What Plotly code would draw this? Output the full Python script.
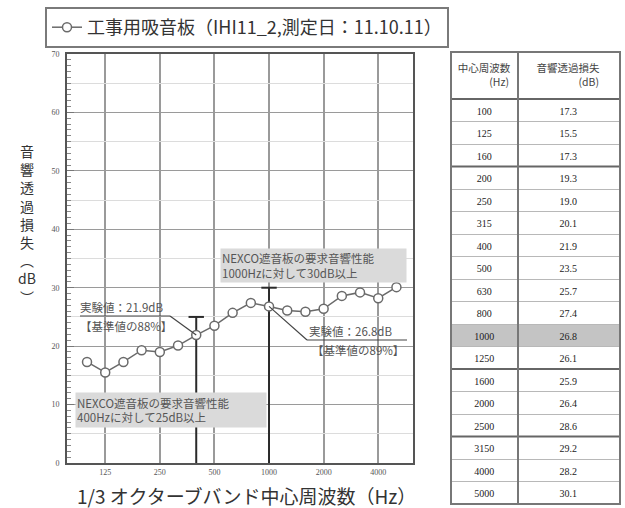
import plotly.graph_objects as go

# ---------------- data ----------------
freqs = [100, 125, 160, 200, 250, 315, 400, 500, 630, 800, 1000, 1250,
         1600, 2000, 2500, 3150, 4000, 5000]
tl_values = [17.3, 15.5, 17.3, 19.3, 19.0, 20.1, 21.9, 23.5, 25.7, 27.4, 26.8,
             26.1, 25.9, 26.4, 28.6, 29.2, 28.2, 30.1]
x_tick_labels = ["125", "250", "500", "1000", "2000", "4000"]
y_tick_values = [0, 10, 20, 30, 40, 50, 60, 70]
req_freqs = [400, 1000]
req_values = [25, 30]
series_name = "工事用吸音板（IHI11_2,測定日：11.10.11）"
table_header = ["中心周波数<br>　　　(Hz)", "音響透過損失<br>　　　　(dB)"]
highlight_freq = 1000
table_group_breaks = [3, 12, 15]

W, H = 625, 508
CJK = "Noto Sans CJK JP"
SERIF = "Liberation Serif"

idx = list(range(len(freqs)))
xt_vals = [freqs.index(int(s)) for s in x_tick_labels]

# plot area in pixels
PL, PR, PT, PB = 67, 413, 54, 463
XMIN, XMAX = -1.1, 17.91
YMIN, YMAX = 0, 70

def px_x(p):
    return XMIN + (p - PL) / (PR - PL) * (XMAX - XMIN)

def px_y(p):
    return YMAX - (p - PT) / (PB - PT) * (YMAX - YMIN)

fig = go.Figure()

# requirement I-beams
rx, ry = [], []
for f, v in zip(req_freqs, req_values):
    i = freqs.index(f)
    rx += [i, i, None]
    ry += [0, v, None]
fig.add_trace(go.Scatter(x=rx, y=ry, mode="lines",
                         line=dict(color="#2a2a2a", width=2),
                         showlegend=False, hoverinfo="skip"))
fig.add_trace(go.Scatter(x=[freqs.index(f) for f in req_freqs], y=req_values,
                         mode="markers",
                         marker=dict(symbol="line-ew", size=11,
                                     line=dict(color="#2a2a2a", width=2)),
                         showlegend=False, hoverinfo="skip"))

# main series
fig.add_trace(go.Scatter(x=idx, y=tl_values, mode="lines+markers",
                         name=series_name,
                         line=dict(color="#6a6a6a", width=1.5),
                         marker=dict(symbol="circle", size=9, color="white",
                                     line=dict(color="#6a6a6a", width=1.5))))

# invisible trace for the secondary (5 dB) grid axis
fig.add_trace(go.Scatter(x=[0], y=[0], yaxis="y2", mode="markers",
                         marker=dict(opacity=0), showlegend=False,
                         hoverinfo="skip"))

# table
hi = freqs.index(highlight_freq)
fill = ["#c4c4c4" if i == hi else "white" for i in idx]
HEADER_H = 47
CELL_H = 22.5
TL, TR, TT = 451, 620, 52
COL1 = 67
TB = TT + HEADER_H + CELL_H * len(freqs)
fig.add_trace(go.Table(
    domain=dict(x=[TL / W, TR / W], y=[1 - TB / H, 1 - TT / H]),
    columnwidth=[COL1, TR - TL - COL1],
    header=dict(values=table_header, align="center", height=HEADER_H,
                fill_color="white", line=dict(color="#8a8a8a", width=1),
                font=dict(family=CJK, size=10.5, color="#444")),
    cells=dict(values=[[str(f) for f in freqs], [f"{v:.1f}" for v in tl_values]],
               align="center", height=CELL_H,
               fill_color=[fill, fill],
               line=dict(color="#b8b8b8", width=1),
               font=dict(family=SERIF, size=10, color="#222")),
))

shapes = []
# table thick separators + border
def tab_y(k):
    return 1 - (TT + HEADER_H + CELL_H * k) / H
for k in [0] + table_group_breaks:
    shapes.append(dict(type="line", xref="paper", yref="paper",
                       x0=TL / W, x1=TR / W, y0=tab_y(k), y1=tab_y(k),
                       line=dict(color="#666", width=2)))
shapes.append(dict(type="rect", xref="paper", yref="paper",
                   x0=TL / W, x1=TR / W, y0=1 - TB / H, y1=1 - TT / H,
                   line=dict(color="#777", width=2)))
shapes.append(dict(type="line", xref="paper", yref="paper",
                   x0=(TL + COL1) / W, x1=(TL + COL1) / W, y0=1 - TB / H, y1=1 - TT / H,
                   line=dict(color="#777", width=2)))

# leader lines
i1 = freqs.index(400)
v1 = tl_values[i1]
u1y = px_y(316)
shapes.append(dict(type="line", xref="x", yref="y", x0=px_x(80), x1=px_x(170),
                   y0=u1y, y1=u1y, line=dict(color="#444", width=1.2)))
shapes.append(dict(type="line", xref="x", yref="y", x0=px_x(170), x1=i1,
                   y0=u1y, y1=v1, line=dict(color="#444", width=1.2)))
i2 = freqs.index(1000)
v2 = tl_values[i2]
u2y = px_y(340)
shapes.append(dict(type="line", xref="x", yref="y", x0=i2, x1=px_x(307),
                   y0=v2, y1=u2y, line=dict(color="#444", width=1.2)))
shapes.append(dict(type="line", xref="x", yref="y", x0=px_x(307), x1=px_x(407),
                   y0=u2y, y1=u2y, line=dict(color="#444", width=1.2)))

ann_font = dict(family=CJK, size=11.5, color="#555")
annotations = [
    dict(xref="x", yref="y", x=px_x(79), y=u1y, xanchor="left", yanchor="bottom",
         text=f"実験値：{v1}dB", showarrow=False, font=ann_font, borderpad=0),
    dict(xref="x", yref="y", x=px_x(79), y=px_y(317), xanchor="left", yanchor="top",
         text=f"【基準値の{round(v1 / req_values[0] * 100)}%】", showarrow=False,
         font=ann_font, borderpad=0),
    dict(xref="x", yref="y", x=px_x(308), y=u2y, xanchor="left", yanchor="bottom",
         text=f"実験値：{v2}dB", showarrow=False, font=ann_font, borderpad=0),
    dict(xref="x", yref="y", x=px_x(311), y=px_y(341), xanchor="left", yanchor="top",
         text=f"【基準値の{round(v2 / req_values[1] * 100)}%】", showarrow=False,
         font=ann_font, borderpad=0),
    dict(xref="x", yref="y", x=px_x(220), y=px_y(248), xanchor="left", yanchor="top",
         text=f"NEXCO遮音板の要求音響性能<br>{req_freqs[1]}Hzに対して{req_values[1]}dB以上",
         showarrow=False, align="left", width=183, height=31, borderpad=1,
         bgcolor="#dadada", font=ann_font),
    dict(xref="x", yref="y", x=px_x(75), y=px_y(392), xanchor="left", yanchor="top",
         text=f"NEXCO遮音板の要求音響性能<br>{req_freqs[0]}Hzに対して{req_values[0]}dB以上",
         showarrow=False, align="left", width=188, height=32, borderpad=1,
         bgcolor="#dadada", font=ann_font),
    # axis titles
    dict(xref="paper", yref="paper", x=27 / W, y=1 - 224 / H,
         xanchor="center", yanchor="middle", showarrow=False,
         text="<br>".join(["音", "響", "透", "過", "損", "失", "︵", "dB", "︶"]),
         font=dict(family=CJK, size=14, color="#333")),
    dict(xref="paper", yref="paper", x=246 / W, y=1 - 495 / H,
         xanchor="center", yanchor="middle", showarrow=False,
         text="1/3 オクターブバンド中心周波数（Hz）",
         font=dict(family=CJK, size=19, color="#333")),
]

fig.update_layout(
    width=W, height=H,
    margin=dict(l=0, r=0, t=0, b=0),
    paper_bgcolor="white", plot_bgcolor="white",
    shapes=shapes, annotations=annotations,
    showlegend=True,
    legend=dict(x=45 / W, y=1 - 7 / H, xanchor="left", yanchor="top",
                bordercolor="#7a7a7a", borderwidth=2, bgcolor="white",
                font=dict(family=CJK, size=18, color="#333"),
                itemwidth=30),
    xaxis=dict(domain=[PL / W, PR / W], range=[XMIN, XMAX],
               tickmode="array", tickvals=xt_vals, ticktext=x_tick_labels,
               showgrid=True, gridcolor="#9a9a9a", gridwidth=1.5,
               showline=True, linecolor="#555", linewidth=2, mirror=True,
               ticks="", zeroline=False, automargin=False,
               tickfont=dict(family=SERIF, size=8, color="#555")),
    yaxis=dict(domain=[1 - PB / H, 1 - PT / H], range=[YMIN, YMAX],
               tickmode="array", tickvals=y_tick_values,
               showgrid=True, gridcolor="#9a9a9a", gridwidth=1.2,
               showline=True, linecolor="#555", linewidth=2, mirror=True,
               ticks="inside", ticklen=7, tickcolor="#777",
               minor=dict(dtick=1, ticks="inside", ticklen=4, tickcolor="#888",
                          showgrid=False),
               zeroline=False, automargin=False, ticklabelstandoff=4,
               tickfont=dict(family=SERIF, size=8, color="#555")),
    yaxis2=dict(overlaying="y", range=[YMIN, YMAX], side="right",
                tickmode="array", tickvals=[v + 5 for v in y_tick_values[:-1]],
                showgrid=True, gridcolor="#dcdcdc", gridwidth=1,
                showticklabels=False, ticks="", showline=False, zeroline=False,
                automargin=False),
)

fig.write_html("out.html",
               config={"displayModeBar": False},
               post_script="document.body.style.margin='0px';"
                           "document.body.style.overflow='hidden';")
